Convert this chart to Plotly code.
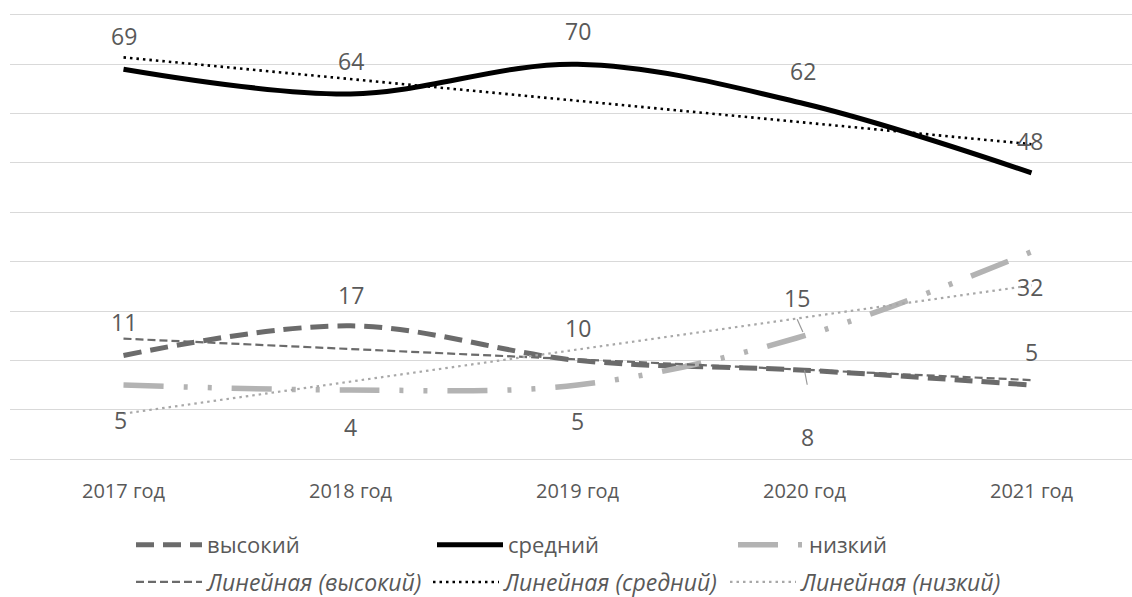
import numpy as np
import plotly.graph_objects as go

# Категории и значения по уровням
years = ["2017 год", "2018 год", "2019 год", "2020 год", "2021 год"]
high = [11, 17, 10, 8, 5]      # высокий
mid = [69, 64, 70, 62, 48]     # средний
low = [5, 4, 5, 15, 32]        # низкий

# Положение подписей данных (над/под точкой) и сдвиги, в пикселях
high_lbl = [(0, 33), (0, 31), (0, 32), (3, -67), (0, 33)]
mid_lbl = [(0, 33), (0, 33), (0, 33), (-2, 33), (-2, 32)]
low_lbl = [(-3, -35), (0, -37), (0, -36), (-8, 38), (-2, -35)]

TEXT = "#595959"
FONT = "Open Sans"
C_HIGH = "#6b6b6b"
C_MID = "#000000"
C_LOW = "#b3b3b3"

xi = np.arange(len(years))


def trend(values):
    k, b = np.polyfit(xi, np.asarray(values, dtype=float), 1)
    return k * xi + b


fig = go.Figure()

series = [
    ("высокий", high, C_HIGH, 5, "18px,9px"),
    ("средний", mid, C_MID, 5, "solid"),
    ("низкий", low, C_LOW, 5.5, "40px,20px,4px,20px,4px,20px"),
]
for name, vals, col, w, dash in series:
    fig.add_trace(go.Scatter(
        x=years, y=vals, name=name, mode="lines",
        line=dict(color=col, width=w, dash=dash, shape="spline", smoothing=1),
        legend="legend", hoverinfo="skip",
    ))

trends = [
    ("Линейная (высокий)", high, C_HIGH, 2.2, "8px,4px"),
    ("Линейная (средний)", mid, C_MID, 2.6, "2.5px,4px"),
    ("Линейная (низкий)", low, "#a8a8a8", 2.2, "2.5px,4px"),
]
for name, vals, col, w, dash in trends:
    fig.add_trace(go.Scatter(
        x=years, y=trend(vals), name=name, mode="lines",
        line=dict(color=col, width=w, dash=dash),
        legend="legend2", hoverinfo="skip",
    ))

# Подписи значений
for vals, offs in ((high, high_lbl), (mid, mid_lbl), (low, low_lbl)):
    for cat, v, (dx, dy) in zip(years, vals, offs):
        fig.add_annotation(
            x=cat, y=v, text=str(v), showarrow=False,
            xshift=dx, yshift=dy,
            font=dict(family=FONT, size=23, color=TEXT),
        )

# Выноски к смещённым подписям 2020 года
fig.add_annotation(x=years[3], y=low[3], text="", showarrow=True,
                   ax=-8, ay=-18, arrowhead=0, arrowwidth=1.2,
                   arrowcolor="#9a9a9a", standoff=4)
fig.add_annotation(x=years[3], y=high[3], text="", showarrow=True,
                   ax=3, ay=16, arrowhead=0, arrowwidth=1.2,
                   arrowcolor="#9a9a9a", standoff=0)

ppu = 227.0
legend_common = dict(
    orientation="h", xref="container", yref="container",
    xanchor="left", yanchor="middle",
    entrywidthmode="pixels", itemwidth=66,
    bgcolor="rgba(0,0,0,0)",
)
fig.update_layout(
    width=1132, height=597,
    margin=dict(l=10, r=0, t=10, b=133),
    paper_bgcolor="white", plot_bgcolor="white",
    font=dict(family=FONT, color=TEXT),
    xaxis=dict(
        type="category", categoryorder="array", categoryarray=years,
        range=[-0.5, -0.5 + 1122 / ppu],
        showgrid=False, zeroline=False, showline=False, ticks="",
        tickfont=dict(family=FONT, size=20, color=TEXT),
        ticklabelstandoff=13,
    ),
    yaxis=dict(
        range=[-11, 81], tickvals=list(range(-10, 81, 10)),
        showticklabels=False, showgrid=True, gridcolor="#d9d9d9",
        gridwidth=1.3, zeroline=False, showline=False,
    ),
    legend=dict(
        legend_common, x=131 / 1132, y=1 - 545 / 597, entrywidth=220,
        font=dict(family=FONT, size=22, color=TEXT),
    ),
    legend2=dict(
        legend_common, x=131 / 1132, y=1 - 582 / 597, entrywidth=216,
        font=dict(family=FONT, size=23, color=TEXT, style="italic"),
    ),
    showlegend=True,
)

fig.write_html("out.html")
